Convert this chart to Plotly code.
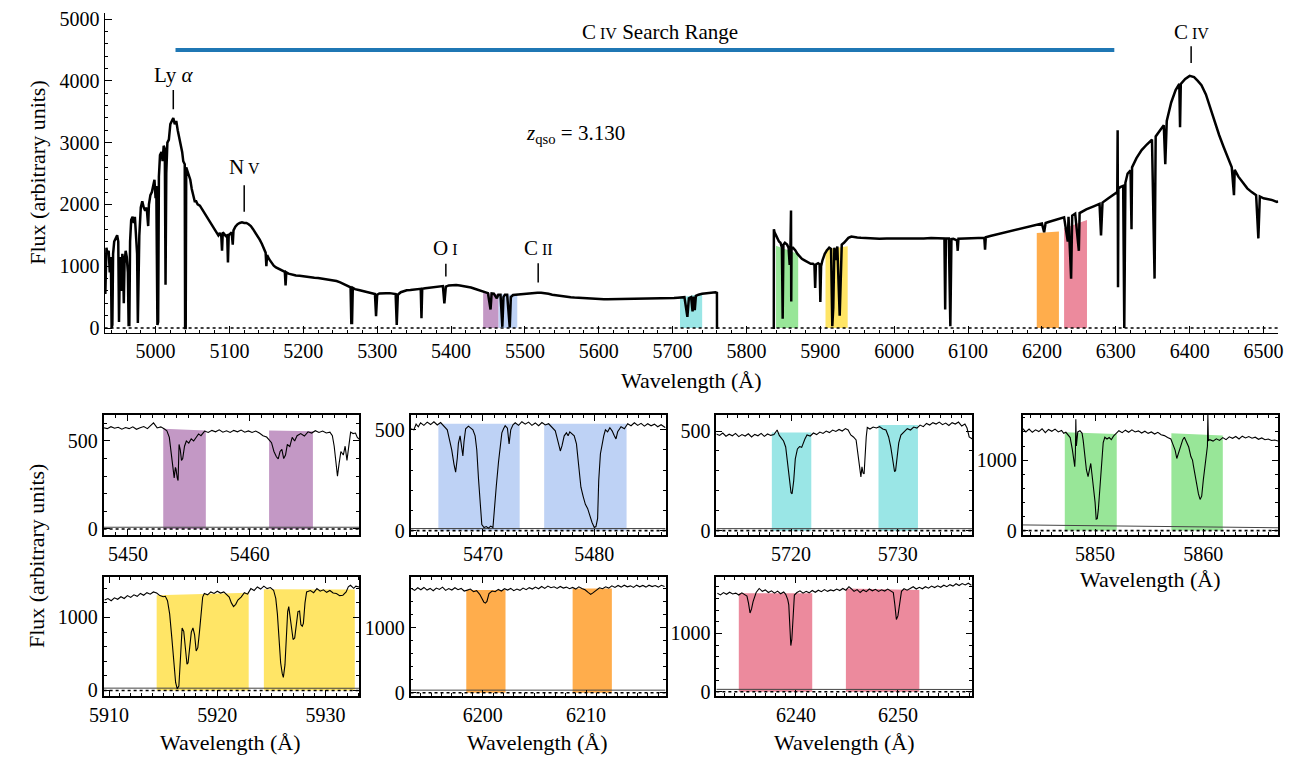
import plotly.graph_objects as go

# ---------------------------------------------------------------- data
# Full spectrum (wavelength in Angstrom, flux in arbitrary units); None marks the detector gap
MAIN_WAVE = [
    4931, 4932, 4933.5, 4935, 4936.5, 4938, 4939.5, 4940.5, 4941.5, 4942.5,
    4944, 4946, 4948, 4949.5, 4950.5, 4951.5, 4953, 4954, 4955, 4956,
    4957, 4958, 4959.5, 4961, 4962.5, 4963.5, 4964.5, 4965.5, 4967, 4969,
    4970.5, 4972, 4973.5, 4975, 4976, 4977, 4978, 4980, 4982, 4984,
    4986, 4988, 4989, 4990, 4991, 4993, 4995, 4997, 4998.5, 5000,
    5001, 5002.5, 5003.5, 5004.5, 5006, 5008, 5009.5, 5011, 5012.5, 5013.5,
    5014.5, 5016, 5018, 5020, 5022, 5024, 5026, 5028, 5030, 5032,
    5034, 5036, 5037.5, 5039.5, 5040, 5040.8, 5041.5, 5043, 5045, 5047,
    5049, 5051, 5053, 5055, 5057, 5060, 5063, 5066, 5069, 5072,
    5075, 5078, 5081, 5083, 5085, 5087, 5089, 5090, 5091, 5093,
    5095, 5097, 5098, 5099, 5101, 5103, 5104.5, 5105.5, 5108, 5111,
    5114, 5117, 5120, 5123, 5126, 5129, 5132, 5135, 5138, 5141,
    5144, 5147, 5149, 5150, 5151, 5154, 5157, 5160, 5163, 5166,
    5169, 5172, 5175, 5176, 5177, 5180, 5185, 5190, 5195, 5200,
    5205, 5210, 5215, 5220, 5225, 5230, 5235, 5240, 5245, 5250,
    5255, 5260, 5264, 5265, 5266, 5267, 5270, 5275, 5280, 5285,
    5290, 5294, 5297, 5298.5, 5300, 5303, 5307, 5312, 5317, 5322,
    5325, 5326.5, 5328, 5332, 5336, 5340, 5345, 5350, 5355, 5359,
    5360, 5361, 5365, 5370, 5375, 5380, 5385, 5389, 5391, 5393,
    5397, 5402, 5407, 5412, 5417, 5422, 5427, 5432, 5437, 5442,
    5447, 5450, 5453.5, 5455, 5458, 5462, 5464, 5467, 5469.5, 5471,
    5473, 5476, 5479.5, 5481, 5484, 5488, 5492, 5497, 5502, 5507,
    5512, 5517, 5522, 5527, 5532, 5537, 5542, 5547, 5552, 5557,
    5562, 5567, 5572, 5577, 5582, 5587, 5592, 5597, 5602, 5607,
    5612, 5617, 5622, 5627, 5632, 5637, 5642, 5647, 5652, 5657,
    5662, 5667, 5672, 5677, 5682, 5687, 5692, 5697, 5702, 5707,
    5712, 5716, 5720, 5722, 5725, 5727, 5728.5, 5730, 5731.5, 5735,
    5740, 5745, 5750, 5754, 5758, 5760, 5760.1, None, 5837, 5837.1, 5838,
    5840, 5842, 5844, 5846, 5848, 5849, 5850, 5852, 5855, 5857,
    5858.5, 5859.5, 5860.3, 5860.6, 5861, 5863, 5866, 5869, 5872, 5875,
    5878, 5881, 5884, 5887, 5890, 5892, 5893, 5894, 5897, 5899,
    5900, 5901, 5903, 5906, 5909, 5912, 5914.5, 5916.2, 5917.5, 5919,
    5921.5, 5923, 5926.2, 5928, 5929, 5932, 5935, 5938, 5942, 5946,
    5950, 5955, 5960, 5965, 5970, 5975, 5980, 5990, 6000, 6010,
    6020, 6030, 6040, 6050, 6060, 6068, 6069, 6070, 6074, 6076,
    6077.5, 6080, 6085, 6086, 6087, 6095, 6105, 6113, 6122, 6123,
    6124, 6130, 6140, 6150, 6160, 6170, 6180, 6190, 6200, 6203,
    6205, 6210, 6215, 6220, 6230, 6235, 6236, 6239.5, 6241, 6245,
    6250, 6251, 6260, 6270, 6278, 6280, 6282, 6290, 6296, 6302,
    6302.5, 6303, 6303.5, 6306, 6310, 6311.5, 6313, 6316, 6320, 6321.3,
    6322, 6328, 6335, 6342, 6349, 6352.5, 6354, 6360, 6365, 6367,
    6369, 6375, 6381, 6386, 6387, 6388, 6394, 6400, 6406, 6411,
    6416, 6422, 6428, 6434, 6440, 6446, 6452, 6457, 6460, 6461,
    6466, 6472, 6478, 6484, 6490, 6493, 6495, 6500, 6506, 6512,
    6518, 6520,
]
MAIN_FLUX = [
    1150, 550, 1300, 1200, 1250, 900, 1150, 0, 50, 1200,
    1400, 1450, 1500, 1400, 100, 900, 1150, 600, 1200, 1100,
    400, 1050, 1250, 1150, 900, 50, 50, 1400, 1750, 1800,
    1700, 1800, 1500, 1200, 80, 700, 1500, 1950, 2050, 1950,
    1900, 1950, 1800, 1650, 2000, 2150, 2200, 2350, 2400, 2100,
    2300, 50, 100, 2450, 2800, 2850, 2700, 2950, 2900, 700,
    2500, 3000, 3050, 3300, 3350, 3400, 3300, 3350, 3200, 3100,
    2950, 2850, 2700, 2650, 0, 0, 2600, 2550, 2450, 2400,
    2250, 2150, 2050, 2050, 2000, 1980, 1920, 1870, 1820, 1760,
    1680, 1620, 1560, 1520, 1500, 1540, 1480, 1250, 1550, 1520,
    1490, 1500, 1060, 1500, 1520, 1550, 1350, 1580, 1640, 1680,
    1700, 1710, 1700, 1700, 1680, 1650, 1600, 1550, 1490, 1430,
    1360, 1280, 1220, 1000, 1180, 1110, 1050, 1010, 980, 960,
    940, 920, 910, 690, 900, 880, 860, 850, 845, 835,
    830, 820, 815, 810, 800, 795, 790, 780, 760, 740,
    710, 680, 660, 80, 80, 650, 630, 615, 600, 585,
    565, 555, 550, 190, 540, 560, 565, 565, 565, 560,
    550, 50, 540, 580, 600, 610, 615, 620, 630, 635,
    160, 635, 645, 650, 660, 670, 675, 680, 400, 670,
    690, 695, 695, 690, 680, 670, 655, 635, 615, 590,
    570, 565, 300, 560, 555, 480, 540, 540, 20, 500,
    540, 540, 10, 500, 535, 540, 545, 550, 555, 560,
    565, 570, 570, 565, 555, 540, 530, 520, 510, 505,
    500, 495, 490, 485, 480, 475, 472, 470, 468, 466,
    465, 466, 466, 468, 467, 466, 465, 466, 467, 466,
    468, 470, 470, 472, 475, 478, 480, 482, 485, 490,
    495, 500, 180, 480, 500, 270, 510, 290, 520, 540,
    555, 560, 570, 580, 580, 570, -15, None, -15, 1600, 1550,
    1500, 1450, 1400, 1380, 1300, 150, 1350, 1380, 1350, 1300,
    1020, 1300, 1900, 430, 1300, 1300, 1260, 1200, 1150, 1120,
    1100, 1080, 1060, 1040, 1040, 1020, 650, 1030, 1050, 1030,
    420, 1000, 1100, 1200, 1260, 1300, 1280, 30, 330, 1300,
    1100, 1320, 200, 900, 1350, 1380, 1430, 1460, 1480, 1470,
    1465, 1460, 1455, 1450, 1455, 1450, 1445, 1450, 1450, 1440,
    1450, 1445, 1450, 1455, 1450, 1450, 300, 1450, 1450, 30,
    1440, 1445, 1420, 1250, 1445, 1450, 1455, 1460, 1460, 1270,
    1470, 1490, 1520, 1545, 1575, 1605, 1635, 1660, 1690, 1550,
    1700, 1720, 1740, 1760, 1790, 1400, 1800, 800, 1820, 1850,
    1250, 1860, 1920, 1970, 2010, 1500, 2030, 2100, 2150, 2200,
    3200, 660, 2250, 2280, 2300, 0, 2350, 2500, 2550, 1600,
    2600, 2750, 2880, 2970, 3050, 800, 3100, 3200, 3280, 2650,
    3350, 3650, 3850, 3950, 3250, 3950, 4030, 4080, 4060, 4000,
    3930, 3780, 3560, 3320, 3120, 2930, 2740, 2600, 2150, 2560,
    2450, 2350, 2260, 2200, 2150, 1450, 2130, 2100, 2090, 2070,
    2040, 2050,
]

# Coloured windows drawn on the full spectrum: start, end, top at start, top at end
BAND_COLORS = ["#c398c5", "#bed2f5", "#9ae6e6", "#98e698", "#ffe566", "#ffad4c", "#ec8a9d"]
BAND_START = [5443.5, 5464.4, 5710, 5840, 5907, 6193, 6230]
BAND_END = [5464.4, 5489.7, 5740, 5870, 5937, 6223, 6261]
BAND_TOP_START = [575, 545, 495, 1330, 1272, 1537, 1616]
BAND_TOP_END = [545, 540, 555, 1200, 1325, 1563, 1749]

# Emission-line markers
LINE_LABELS = ["Ly <i>α</i>", "N<span style='font-size:16px'> V</span>",
               "O<span style='font-size:16px'> I</span>",
               "C<span style='font-size:16px'> II</span>",
               "C<span style='font-size:16px'> IV</span>"]
LINE_WAVE = [5024, 5120, 5393, 5518, 6402]
LINE_TICK_LO = [3540, 1880, 835, 735, 4290]
LINE_TICK_HI = [3850, 2310, 1040, 1050, 4560]
LINE_TEXT_FLUX = [4095, 2600, 1300, 1295, 4790]

SEARCH_RANGE = [5027, 6298]
SEARCH_FLUX = 4500
Z_QSO = 3.130

# Zoomed windows
P1_WAVE = [5448.0, 5448.3, 5448.6, 5448.9, 5449.2, 5449.5, 5449.8, 5450.1, 5450.4, 5450.7,
           5451.0, 5451.3, 5451.6, 5451.9, 5452.1, 5452.4, 5452.7, 5453.0, 5453.2, 5453.4,
           5453.55, 5453.7, 5453.8, 5453.9, 5453.95, 5454.05, 5454.12, 5454.2, 5454.3, 5454.4,
           5454.5, 5454.65, 5454.8, 5455.0, 5455.2, 5455.4, 5455.6, 5455.8, 5456.0, 5456.3,
           5456.6, 5456.9, 5457.2, 5457.5, 5457.8, 5458.1, 5458.4, 5458.7, 5459.0, 5459.3,
           5459.6, 5459.9, 5460.2, 5460.5, 5460.8, 5461.1, 5461.4, 5461.6, 5461.8, 5462.0,
           5462.2, 5462.35, 5462.5, 5462.65, 5462.8, 5462.95, 5463.1, 5463.3, 5463.5, 5463.7,
           5463.9, 5464.2, 5464.5, 5464.8, 5465.1, 5465.4, 5465.7, 5466.0, 5466.3, 5466.6,
           5466.8, 5466.95, 5467.05, 5467.15, 5467.22, 5467.35, 5467.5, 5467.7, 5467.85, 5468.0,
           5468.15, 5468.3, 5468.5, 5468.7, 5468.85, 5469.0]
P1_FLUX = [575, 570, 581, 572, 578, 567, 576, 570, 580, 566,
           575, 582, 570, 592, 603, 574, 580, 568, 558, 520,
           420, 330, 290, 350, 340, 290, 275, 480, 450, 390,
           400, 470, 500, 488, 512, 500, 522, 540, 530, 556,
           548, 560, 552, 563, 550, 558, 548, 560, 552, 562,
           550, 557, 548, 556, 545, 530, 522, 505, 490, 440,
           410, 398, 440, 452, 400, 420, 480, 468, 520, 500,
           530, 542, 528, 552, 545, 558, 548, 556, 545, 550,
           530, 470, 390, 320, 300, 370, 440, 420, 470, 390,
           470, 550, 542, 545, 520, 510]

P2_WAVE = [5463.5, 5463.8, 5464.0, 5464.2, 5464.4, 5464.7, 5465.0, 5465.3, 5465.6, 5465.9,
           5466.2, 5466.5, 5466.8, 5467.0, 5467.2, 5467.4, 5467.55, 5467.7, 5467.8, 5467.95,
           5468.1, 5468.2, 5468.3, 5468.45, 5468.7, 5468.9, 5469.1, 5469.3, 5469.45, 5469.6,
           5469.75, 5469.9, 5470.1, 5470.3, 5470.5, 5470.7, 5470.9, 5471.05, 5471.2, 5471.4,
           5471.55, 5471.7, 5471.85, 5472.0, 5472.2, 5472.35, 5472.5, 5472.7, 5472.9, 5473.2,
           5473.5, 5473.8, 5474.1, 5474.4, 5474.7, 5475.0, 5475.3, 5475.6, 5475.9, 5476.2,
           5476.5, 5476.75, 5476.95, 5477.1, 5477.3, 5477.5, 5477.65, 5477.8, 5478.0, 5478.2,
           5478.4, 5478.6, 5478.8, 5479.0, 5479.2, 5479.4, 5479.6, 5479.8, 5480.0, 5480.15,
           5480.3, 5480.4, 5480.55, 5480.7, 5480.85, 5481.0, 5481.2, 5481.4, 5481.6, 5481.8,
           5481.95, 5482.1, 5482.4, 5482.7, 5483.0, 5483.3, 5483.6, 5483.9, 5484.2, 5484.5,
           5484.8, 5485.1, 5485.4, 5485.7, 5486.0, 5486.4]
P2_FLUX = [505, 500, 528, 515, 535, 522, 538, 526, 540, 524,
           536, 520, 500, 450, 400, 330, 290, 360, 434, 470,
           420, 370, 440, 505, 518, 510, 500, 470, 400, 260,
           120, 30, 15, 20, 12, 22, 15, 100, 220, 340,
           430, 485, 505, 520, 508, 430, 500, 525, 535, 522,
           540, 528, 538, 522, 534, 520, 536, 524, 530, 512,
           495, 440, 395, 420, 470, 485, 470, 490, 482, 470,
           430, 330, 215, 170, 130, 110, 70, 40, 15, 20,
           60, 250, 380, 430, 470, 500, 490, 510, 495, 470,
           455, 490, 515, 505, 530, 520, 535, 522, 532, 518,
           530, 520, 528, 515, 525, 510]

P3_WAVE = [5713.0, 5713.3, 5713.6, 5713.9, 5714.2, 5714.5, 5714.8, 5715.1, 5715.4, 5715.7,
           5716.0, 5716.3, 5716.6, 5716.9, 5717.2, 5717.5, 5717.8, 5718.1, 5718.4, 5718.7,
           5718.9, 5719.1, 5719.3, 5719.5, 5719.7, 5719.85, 5720.0, 5720.1, 5720.25, 5720.4,
           5720.6, 5720.8, 5721.0, 5721.15, 5721.3, 5721.5, 5721.8, 5722.1, 5722.4, 5722.7,
           5723.0, 5723.3, 5723.6, 5723.9, 5724.2, 5724.5, 5724.8, 5725.1, 5725.35, 5725.6,
           5725.85, 5726.1, 5726.3, 5726.45, 5726.55, 5726.65, 5726.75, 5726.85, 5726.95, 5727.05,
           5727.15, 5727.4, 5727.7, 5728.0, 5728.3, 5728.6, 5728.9, 5729.15, 5729.35, 5729.55,
           5729.7, 5729.8, 5729.95, 5730.1, 5730.3, 5730.6, 5730.9, 5731.2, 5731.5, 5731.8,
           5732.1, 5732.4, 5732.7, 5733.0, 5733.3, 5733.6, 5733.9, 5734.2, 5734.5, 5734.8,
           5735.1, 5735.4, 5735.7, 5736.0, 5736.3, 5736.5, 5736.7, 5737.0]
P3_FLUX = [485, 478, 490, 474, 484, 476, 488, 472, 482, 475,
           486, 470, 483, 476, 488, 473, 485, 478, 482, 505,
           478, 465, 450, 420, 340, 260, 190, 185, 250, 360,
           410, 422, 418, 440, 460, 480, 475, 490, 482, 495,
           488, 500, 492, 505, 498, 508, 500, 512, 505, 480,
           470, 455, 380, 300, 270, 320, 290, 285, 400, 470,
           518, 510, 520, 515, 522, 510, 505, 470, 420, 340,
           298, 300, 380, 440, 480, 495, 512, 505, 520, 515,
           530, 522, 538, 530, 542, 535, 545, 532, 540, 528,
           542, 535, 545, 525, 535, 515, 470, 460]

P4_WAVE = [5843.3, 5843.6, 5843.9, 5844.2, 5844.5, 5844.8, 5845.1, 5845.4, 5845.7, 5846.0,
           5846.3, 5846.6, 5846.9, 5847.1, 5847.3, 5847.5, 5847.7, 5847.9, 5848.05, 5848.12,
           5848.18, 5848.22, 5848.27, 5848.4, 5848.6, 5848.8, 5848.9, 5849.05, 5849.2, 5849.35,
           5849.5, 5849.6, 5849.7, 5849.85, 5850.0, 5850.1, 5850.2, 5850.3, 5850.45, 5850.6,
           5850.75, 5850.9, 5851.1, 5851.3, 5851.5, 5851.7, 5851.9, 5852.2, 5852.5, 5852.8,
           5853.1, 5853.4, 5853.7, 5854.0, 5854.3, 5854.6, 5854.9, 5855.2, 5855.5, 5855.8,
           5856.1, 5856.4, 5856.7, 5857.0, 5857.2, 5857.4, 5857.55, 5857.7, 5857.9, 5858.1,
           5858.25, 5858.45, 5858.65, 5858.85, 5859.0, 5859.1, 5859.25, 5859.4, 5859.55, 5859.7,
           5859.85, 5860.0, 5860.15, 5860.3, 5860.38, 5860.42, 5860.47, 5860.6, 5860.9, 5861.2,
           5861.5, 5861.8, 5862.1, 5862.4, 5862.7, 5863.0, 5863.3, 5863.6, 5863.9, 5864.2,
           5864.5, 5864.8, 5865.1, 5865.4, 5865.7, 5866.0, 5866.3, 5866.6, 5866.9]
P4_FLUX = [1450, 1400, 1440, 1395, 1430, 1405, 1445, 1390, 1435, 1410,
           1440, 1400, 1420, 1380, 1395, 1360, 1320, 1150, 950, 907,
           1100, 1580, 1200, 1400, 1418, 1380, 1280, 1050, 860, 767,
           900, 953, 813, 620, 400, 163, 170, 300, 600, 953,
           1250, 1325, 1300, 1320, 1290, 1340, 1372, 1418, 1390, 1425,
           1395, 1430, 1400, 1415, 1385, 1410, 1380, 1400, 1370, 1395,
           1360, 1348, 1320, 1300, 1220, 1139, 1023, 1100, 1209, 1290,
           1325, 1250, 1186, 1050, 1000, 907, 760, 628, 520, 442,
           488, 720, 900, 1046, 1200, 1650, 1279, 1290, 1270, 1302,
           1280, 1320, 1290, 1330, 1310, 1335, 1300, 1340, 1315, 1334,
           1310, 1325, 1295, 1315, 1290, 1300, 1279, 1285, 1270]

P5_WAVE = [5909.6, 5909.9, 5910.2, 5910.5, 5910.8, 5911.1, 5911.4, 5911.7, 5912.0, 5912.3,
           5912.6, 5912.9, 5913.2, 5913.5, 5913.8, 5914.1, 5914.4, 5914.7, 5915.0, 5915.2,
           5915.4, 5915.6, 5915.8, 5916.0, 5916.15, 5916.3, 5916.45, 5916.6, 5916.75, 5916.9,
           5917.05, 5917.2, 5917.3, 5917.45, 5917.6, 5917.75, 5917.9, 5918.05, 5918.2, 5918.35,
           5918.5, 5918.65, 5918.8, 5919.1, 5919.4, 5919.7, 5920.0, 5920.3, 5920.6, 5920.9,
           5921.1, 5921.3, 5921.5, 5921.7, 5921.9, 5922.2, 5922.5, 5922.8, 5923.1, 5923.4,
           5923.7, 5924.0, 5924.3, 5924.6, 5924.9, 5925.2, 5925.4, 5925.55, 5925.7, 5925.85,
           5926.0, 5926.1, 5926.25, 5926.4, 5926.5, 5926.6, 5926.75, 5926.9, 5927.0, 5927.15,
           5927.3, 5927.45, 5927.6, 5927.72, 5927.85, 5927.95, 5928.1, 5928.25, 5928.6, 5928.9,
           5929.2, 5929.5, 5929.8, 5930.1, 5930.4, 5930.7, 5931.0, 5931.3, 5931.6, 5931.9,
           5932.1, 5932.3, 5932.6, 5932.8, 5933.1]
P5_FLUX = [1240, 1260, 1230, 1270, 1250, 1285, 1260, 1300, 1275, 1310,
           1290, 1330, 1305, 1340, 1320, 1350, 1335, 1300, 1284, 1290,
           1230, 1050, 720, 300, 110, 23, 60, 450, 856, 811,
           560, 360, 380, 620, 800, 856, 766, 541, 586, 800,
           1100, 1280, 1329, 1310, 1351, 1330, 1360, 1335, 1350, 1310,
           1280, 1200, 1149, 1180, 1239, 1280, 1340, 1320, 1396, 1370,
           1419, 1390, 1430, 1396, 1410, 1374, 1261, 1050, 700, 380,
           230, 180, 350, 700, 1081, 1149, 1000, 800, 698, 720,
           900, 1081, 1090, 901, 880, 920, 1200, 1351, 1370, 1340,
           1396, 1360, 1380, 1345, 1370, 1335, 1329, 1300, 1306, 1350,
           1420, 1441, 1400, 1430, 1419]

P6_WAVE = [6193.1, 6193.4, 6193.7, 6194.0, 6194.3, 6194.6, 6194.9, 6195.2, 6195.5, 6195.8,
           6196.1, 6196.4, 6196.7, 6197.0, 6197.3, 6197.6, 6197.9, 6198.2, 6198.5, 6198.8,
           6199.1, 6199.4, 6199.7, 6199.9, 6200.1, 6200.25, 6200.4, 6200.6, 6200.9, 6201.2,
           6201.5, 6201.8, 6202.1, 6202.4, 6202.7, 6203.0, 6203.3, 6203.6, 6203.9, 6204.2,
           6204.5, 6204.8, 6205.1, 6205.4, 6205.7, 6206.0, 6206.3, 6206.6, 6206.9, 6207.2,
           6207.5, 6207.8, 6208.1, 6208.4, 6208.7, 6209.0, 6209.3, 6209.6, 6209.9, 6210.2,
           6210.45, 6210.7, 6211.0, 6211.3, 6211.6, 6211.9, 6212.2, 6212.5, 6212.8, 6213.1,
           6213.4, 6213.7, 6214.0, 6214.3, 6214.6, 6214.9, 6215.2, 6215.5, 6215.8, 6216.1,
           6216.4, 6216.7, 6217.0, 6217.3, 6217.6]
P6_FLUX = [1599, 1570, 1610, 1580, 1615, 1575, 1600, 1565, 1605, 1585,
           1620, 1570, 1598, 1575, 1610, 1580, 1600, 1560, 1574, 1590,
           1550, 1565, 1510, 1450, 1390, 1374, 1400, 1520, 1560, 1549,
           1585, 1560, 1595, 1575, 1600, 1565, 1590, 1570, 1605, 1580,
           1612, 1590, 1620, 1595, 1630, 1600, 1635, 1610, 1625, 1600,
           1630, 1605, 1620, 1595, 1615, 1590, 1625, 1600, 1580, 1540,
           1509, 1535, 1580, 1610, 1595, 1624, 1605, 1640, 1615, 1645,
           1620, 1650, 1625, 1639, 1615, 1650, 1625, 1645, 1620, 1650,
           1628, 1645, 1620, 1648, 1630]

P7_WAVE = [6232.3, 6232.6, 6232.9, 6233.2, 6233.5, 6233.8, 6234.1, 6234.4, 6234.7, 6235.0,
           6235.2, 6235.35, 6235.5, 6235.65, 6235.8, 6236.1, 6236.4, 6236.7, 6237.0, 6237.3,
           6237.6, 6237.9, 6238.2, 6238.5, 6238.8, 6239.0, 6239.2, 6239.3, 6239.4, 6239.5,
           6239.6, 6239.7, 6239.85, 6240.1, 6240.4, 6240.7, 6241.0, 6241.3, 6241.6, 6241.9,
           6242.2, 6242.5, 6242.8, 6243.1, 6243.4, 6243.7, 6244.0, 6244.3, 6244.6, 6244.9,
           6245.2, 6245.4, 6245.7, 6246.0, 6246.3, 6246.6, 6246.9, 6247.2, 6247.5, 6247.8,
           6248.1, 6248.4, 6248.7, 6249.0, 6249.3, 6249.55, 6249.7, 6249.85, 6250.0, 6250.15,
           6250.35, 6250.6, 6250.9, 6251.2, 6251.5, 6251.8, 6252.1, 6252.4, 6252.7, 6253.0,
           6253.3, 6253.6, 6253.9, 6254.2, 6254.5, 6254.8, 6255.1, 6255.4, 6255.7, 6256.0,
           6256.3, 6256.6, 6256.9, 6257.2]
P7_FLUX = [1686, 1660, 1700, 1670, 1705, 1675, 1690, 1658, 1695, 1665,
           1640, 1518, 1350, 1420, 1546, 1700, 1770, 1720, 1745, 1700,
           1730, 1690, 1725, 1680, 1710, 1670, 1580, 1490, 1099, 792,
           900, 1211, 1658, 1700, 1730, 1690, 1720, 1695, 1735, 1705,
           1740, 1714, 1750, 1720, 1745, 1730, 1760, 1735, 1770, 1740,
           1800, 1770, 1720, 1750, 1700, 1745, 1715, 1760, 1730, 1755,
           1720, 1748, 1725, 1760, 1730, 1700, 1490, 1238, 1300, 1500,
           1720, 1765, 1740, 1770, 1800, 1760, 1790, 1765, 1800, 1775,
           1810, 1785, 1815, 1790, 1826, 1800, 1835, 1810, 1850, 1820,
           1854, 1830, 1860, 1825]

# Error spectrum level at the two ends of each window
ERR_LEVEL = [(10, 10), (10, 10), (10, 10), (80, 40), (32, 30), (40, 40), (42, 40)]

# Shaded windows in each zoom: (start, end, top at start, top at end)
P_BANDS = [
    [(5452.9, 5456.4, 570, 560), (5461.6, 5465.2, 560, 555)],
    [(5466.0, 5473.3, 530, 530), (5475.5, 5482.9, 530, 530)],
    [(5718.2, 5721.9, 493, 493), (5728.2, 5731.9, 530, 530)],
    [(5847.2, 5852.0, 1395, 1372), (5857.05, 5861.8, 1381, 1348)],
    [(5914.4, 5922.9, 1306, 1338), (5924.3, 5932.7, 1387, 1382)],
    [(6198.4, 6202.2, 1574, 1574), (6208.7, 6212.5, 1600, 1600)],
    [(6234.4, 6241.6, 1686, 1686), (6244.9, 6252.1, 1770, 1742)],
]
P_COLORS = ["#c398c5", "#bed2f5", "#9ae6e6", "#98e698", "#ffe566", "#ffad4c", "#ec8a9d"]
P_SPECTRA = [(P1_WAVE, P1_FLUX), (P2_WAVE, P2_FLUX), (P3_WAVE, P3_FLUX), (P4_WAVE, P4_FLUX),
             (P5_WAVE, P5_FLUX), (P6_WAVE, P6_FLUX), (P7_WAVE, P7_FLUX)]

# ---------------------------------------------------------------- layout helpers
W, H = 1302, 762
FONT = "Liberation Serif"
TICK_FONT = dict(family=FONT, size=20, color="black")
TEXT_FONT = dict(family=FONT, size=21, color="black")


def dom_x(left, right):
    return [left / W, right / W]


def dom_y(top, bottom):
    return [1 - bottom / H, 1 - top / H]


fig = go.Figure()
layout = dict(
    width=W, height=H, margin=dict(l=0, r=0, t=0, b=0),
    paper_bgcolor="white", plot_bgcolor="white", showlegend=False,
    font=dict(family=FONT, color="black"),
)

# ---------------------------------------------------------------- main panel
for c, x0, x1, t0, t1 in zip(BAND_COLORS, BAND_START, BAND_END, BAND_TOP_START, BAND_TOP_END):
    fig.add_trace(go.Scatter(x=[x0, x0, x1, x1], y=[0, t0, t1, 0], fill="toself",
                             fillcolor=c, line=dict(width=0), mode="lines",
                             hoverinfo="skip", xaxis="x", yaxis="y"))

fig.add_trace(go.Scatter(x=MAIN_WAVE, y=MAIN_FLUX, mode="lines", connectgaps=False,
                         line=dict(color="black", width=2.5), xaxis="x", yaxis="y"))

fig.add_trace(go.Scatter(x=SEARCH_RANGE, y=[SEARCH_FLUX, SEARCH_FLUX], mode="lines",
                         line=dict(color="#1f77b4", width=4), xaxis="x", yaxis="y"))

axis_common = dict(showgrid=False, zeroline=False, showline=True, linecolor="black",
                   ticks="inside", tickcolor="black", tickfont=TICK_FONT)

layout["xaxis"] = dict(axis_common, domain=dom_x(91, 1283), range=[4931, 6520], anchor="y",
                       dtick=100, tick0=0, ticklen=7, tickwidth=1.2, linewidth=1.3,
                       minor=dict(dtick=20, ticks="inside", ticklen=3.5, tickcolor="black",
                                  tickwidth=1, showgrid=False))
layout["yaxis"] = dict(axis_common, domain=dom_y(8, 334), range=[-85, 5100], anchor="x",
                       dtick=1000, tick0=0, ticklen=7, tickwidth=1.2, linewidth=1.3,
                       minor=dict(dtick=200, ticks="inside", ticklen=3.5, tickcolor="black",
                                  tickwidth=1, showgrid=False))

shapes = [dict(type="line", xref="x domain", yref="y", x0=0, x1=1, y0=0, y1=0,
               line=dict(color="black", width=1.6, dash="dot"))]
annotations = []

for lab, w, lo, hi, ty in zip(LINE_LABELS, LINE_WAVE, LINE_TICK_LO, LINE_TICK_HI, LINE_TEXT_FLUX):
    shapes.append(dict(type="line", xref="x", yref="y", x0=w, x1=w, y0=lo, y1=hi,
                       line=dict(color="black", width=1.5)))
    annotations.append(dict(x=w, y=ty, xref="x", yref="y", text=lab, showarrow=False,
                            xanchor="center", yanchor="middle", font=TEXT_FONT))

annotations.append(dict(x=sum(SEARCH_RANGE) / 2 + 20, y=4790, xref="x", yref="y",
                        text="C<span style='font-size:16px'> IV</span> Search Range",
                        showarrow=False, xanchor="center", yanchor="middle", font=TEXT_FONT))
annotations.append(dict(x=5568, y=3140, xref="x", yref="y",
                        text="<i>z</i><sub>qso</sub> = %.3f" % Z_QSO,
                        showarrow=False, xanchor="center", yanchor="middle", font=TEXT_FONT))

# ---------------------------------------------------------------- zoom panels
COLS = [(90, 349.5), (401.7, 660.7), (712.3, 972.3), (1023.3, 1282.7)]
ROWS = [(417, 539), (582, 703)]
GRID = [(0, 0), (0, 1), (0, 2), (0, 3), (1, 0), (1, 1), (1, 2)]
XRANGES = [[5448, 5469], [5463.5, 5486.4], [5713, 5737], [5843.3, 5866.9],
           [5909.5, 5933.1], [6193, 6217.7], [6232.2, 6257.3]]
YRANGES = [[-33, 648], [-21, 574], [-21, 581], [-60, 1642],
           [-76, 1554], [-50, 1774], [-72, 1965]]
YSTEPS = [(500, 100), (500, 100), (500, 100), (1000, 200), (1000, 200), (1000, 200), (1000, 200)]

for i in range(7):
    n = i + 2
    xa, ya = "x%d" % n, "y%d" % n
    r, c = GRID[i]
    for (x0, x1, t0, t1) in P_BANDS[i]:
        fig.add_trace(go.Scatter(x=[x0, x0, x1, x1], y=[0, t0, t1, 0], fill="toself",
                                 fillcolor=P_COLORS[i], line=dict(width=0), mode="lines",
                                 hoverinfo="skip", xaxis=xa, yaxis=ya))
    e0, e1 = ERR_LEVEL[i]
    fig.add_trace(go.Scatter(x=XRANGES[i], y=[e0, e1], mode="lines",
                             line=dict(color="#444444", width=1), xaxis=xa, yaxis=ya))
    wv, fl = P_SPECTRA[i]
    fig.add_trace(go.Scatter(x=wv, y=fl, mode="lines", line=dict(color="black", width=1.1),
                             xaxis=xa, yaxis=ya))
    major, minor = YSTEPS[i]
    layout["xaxis%d" % n] = dict(axis_common, domain=dom_x(*COLS[c]), range=XRANGES[i],
                                 anchor=ya, mirror="allticks", dtick=10, tick0=0,
                                 ticklen=6, tickwidth=1.2, linewidth=1.8,
                                 minor=dict(dtick=1, ticks="inside", ticklen=3,
                                            tickcolor="black", tickwidth=1, showgrid=False))
    layout["yaxis%d" % n] = dict(axis_common, domain=dom_y(*ROWS[r]), range=YRANGES[i],
                                 anchor=xa, mirror="allticks", dtick=major, tick0=0,
                                 ticklen=6, tickwidth=1.2, linewidth=1.8,
                                 minor=dict(dtick=minor, ticks="inside", ticklen=3,
                                            tickcolor="black", tickwidth=1, showgrid=False))
    shapes.append(dict(type="line", xref="%s domain" % xa, yref=ya, x0=0, x1=1, y0=0, y1=0,
                       line=dict(color="black", width=1.6, dash="dot")))

# ---------------------------------------------------------------- axis titles
TITLE_FONT = dict(family=FONT, size=22, color="black")
WAVE_TITLE = "Wavelength (Å)"
FLUX_TITLE = "Flux (arbitrary units)"
for (px, py) in [(687, 382), (1153, 584), (219, 750), (531, 750), (842, 750)]:
    annotations.append(dict(x=px / W, y=1 - py / H, xref="paper", yref="paper",
                            xanchor="center", yanchor="middle",
                            text=WAVE_TITLE, showarrow=False, font=TITLE_FONT))
for py in [170, 560]:
    annotations.append(dict(x=22 / W, y=1 - py / H, xref="paper", yref="paper",
                            xanchor="center", yanchor="middle",
                            text=FLUX_TITLE, textangle=-90, showarrow=False, font=TITLE_FONT))

layout["shapes"] = shapes
layout["annotations"] = annotations
fig.update_layout(**layout)
fig.write_html("out.html")
